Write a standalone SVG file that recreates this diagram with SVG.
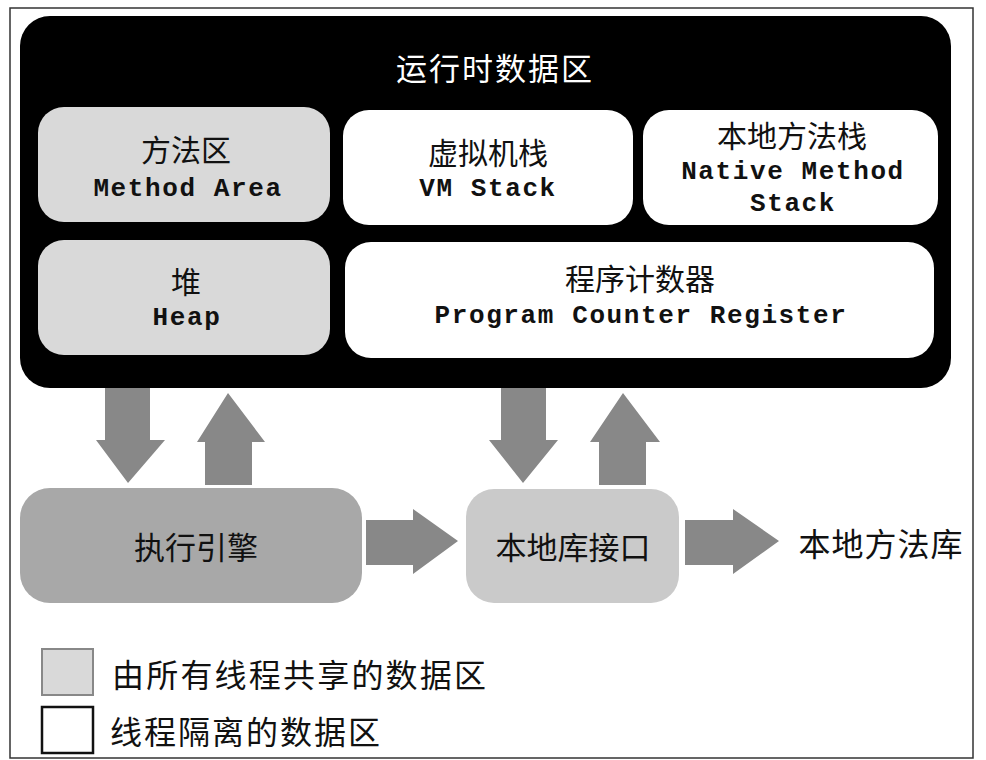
<svg xmlns="http://www.w3.org/2000/svg" width="986" height="760" viewBox="0 0 986 760">
<defs>
<style>
.cn{font-family:"Noto Sans CJK SC","Noto Sans",sans-serif;text-anchor:middle;dominant-baseline:central;fill:#111}
.en{font-family:"Liberation Mono","DejaVu Sans Mono",monospace;font-weight:bold;text-anchor:middle;dominant-baseline:central;fill:#111;font-size:26px;letter-spacing:1.6px}
.shared{fill:#d9d9d9}
.private{fill:#ffffff}
.arrow{fill:#888888}
</style>
</defs>
<rect x="0" y="0" width="986" height="760" fill="#ffffff"/>
<rect x="10" y="8" width="963" height="750" fill="#ffffff" stroke="#333" stroke-width="1.5"/>

<g id="runtime-data-area">
<rect x="20" y="16" width="931" height="372" rx="30" fill="#000"/>
<text class="cn" x="495" y="66" font-size="31" style="fill:#fff" letter-spacing="2">运行时数据区</text>
</g>

<g id="method-area">
<rect class="shared" x="38" y="107" width="292" height="115" rx="26"/>
<text class="cn" x="186" y="148" font-size="30">方法区</text>
<text class="en" x="188" y="189">Method Area</text>
</g>

<g id="vm-stack">
<rect class="private" x="343" y="110" width="290" height="115" rx="26"/>
<text class="cn" x="488" y="151" font-size="30">虚拟机栈</text>
<text class="en" x="488" y="189">VM Stack</text>
</g>

<g id="native-method-stack">
<rect class="private" x="643" y="110" width="295" height="115" rx="26"/>
<text class="cn" x="792" y="134" font-size="30">本地方法栈</text>
<text class="en" x="793" y="172">Native Method</text>
<text class="en" x="793" y="204">Stack</text>
</g>

<g id="heap">
<rect class="shared" x="38" y="240" width="292" height="115" rx="26"/>
<text class="cn" x="186" y="280" font-size="30">堆</text>
<text class="en" x="187" y="318">Heap</text>
</g>

<g id="program-counter-register">
<rect class="private" x="345" y="242" width="589" height="116" rx="26"/>
<text class="cn" x="640" y="277" font-size="30">程序计数器</text>
<text class="en" x="641" y="316">Program Counter Register</text>
</g>

<g id="execution-engine">
<rect x="20" y="488" width="342" height="115" rx="30" fill="#a8a8a8"/>
<text class="cn" x="196" y="545" font-size="31">执行引擎</text>
</g>

<g id="native-interface">
<rect x="466" y="489" width="213" height="114" rx="28" fill="#cacaca"/>
<text class="cn" x="573" y="545" font-size="31">本地库接口</text>
</g>

<g id="native-library">
<text class="cn" x="881" y="542" font-size="32" letter-spacing="1">本地方法库</text>
</g>

<g id="connectors">
<polygon class="arrow" points="105,388 150,388 150,440 165,440 128,483 96,440 105,440"/>
<polygon class="arrow" points="205,485 252,485 252,442 265,442 228,393 197,442 205,442"/>
<polygon class="arrow" points="501,388 546,388 546,440 558,440 523,483 489,440 501,440"/>
<polygon class="arrow" points="599,485 646,485 646,442 660,442 623,393 590,442 599,442"/>
<polygon class="arrow" points="366,520 413,520 413,509 458,541 413,574 413,565 366,565"/>
<polygon class="arrow" points="685,520 733,520 733,509 779,541 733,574 733,565 685,565"/>
</g>

<g id="legend">
<rect x="42" y="649" width="51" height="46" fill="#d9d9d9" stroke="#888" stroke-width="2"/>
<text class="cn" x="112" y="673" font-size="32" style="text-anchor:start" letter-spacing="2.2">由所有线程共享的数据区</text>
<rect x="42" y="707" width="51" height="46" fill="#fff" stroke="#111" stroke-width="2.5"/>
<text class="cn" x="110" y="730" font-size="32" style="text-anchor:start" letter-spacing="2">线程隔离的数据区</text>
</g>
</svg>
